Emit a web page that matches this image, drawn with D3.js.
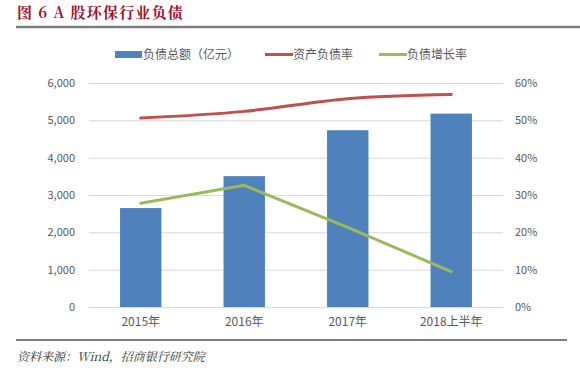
<!DOCTYPE html>
<html><head><meta charset="utf-8">
<script src="https://cdn.jsdelivr.net/npm/d3@7/dist/d3.min.js"></script>
<style>body{margin:0;background:#fff}svg{display:block}</style>
</head><body><svg id="c" width="580" height="368"></svg>
<script>
const categories = ["2015年","2016年","2017年","2018上半年"];
const debtTotal = [2650, 3505, 4735, 5180];
const debtRatio = [0.506, 0.524, 0.558, 0.569];
const debtGrowth = [0.278, 0.326, 0.213, 0.095];
const leftTicks = [0,1000,2000,3000,4000,5000,6000];
const rightTicks = [0,0.1,0.2,0.3,0.4,0.5,0.6];
const legendLabels = ["负债总额（亿元）","资产负债率","负债增长率"];
const titleText = "图 6 A 股环保行业负债";
const sourceText = "资料来源：Wind，招商银行研究院";

const svg = d3.select("#c");
const font = "'Noto Sans CJK SC', 'Microsoft YaHei', sans-serif";
const axisCol = "#595959";

const x = d3.scaleBand().domain(categories).range([89, 503]).paddingInner(0.6).paddingOuter(0.3);
const yL = d3.scaleLinear().domain([0, 6000]).range([307, 83]);
const yR = d3.scaleLinear().domain([0, 0.6]).range([307, 83]);

// Title
svg.append("text").attr("x", 17).attr("y", 18).text(titleText)
  .attr("font-family", "'Noto Serif CJK SC','Noto Sans CJK SC',serif").attr("font-weight", "bold")
  .attr("font-size", 15).attr("letter-spacing", 1.2).attr("fill", "#A3102E");
svg.append("line").attr("x1", 16).attr("x2", 580).attr("y1", 27).attr("y2", 27)
  .attr("stroke", "#7f7f7f").attr("stroke-width", 2.5);

// Gridlines
svg.append("g").selectAll("line").data(leftTicks).join("line")
  .attr("x1", 89).attr("x2", 503).attr("y1", d => yL(d) + 0.5).attr("y2", d => yL(d) + 0.5)
  .attr("stroke", "#d9d9d9").attr("stroke-width", 1);

// Left axis
const gL = svg.append("g").attr("transform", "translate(89,0)")
  .call(d3.axisLeft(yL).tickValues(leftTicks).tickSize(0).tickPadding(14).tickFormat(d3.format(",")));
gL.select(".domain").remove();
gL.selectAll("text").attr("font-family", font).attr("font-size", 11).attr("fill", axisCol);

// Right axis
const gR = svg.append("g").attr("transform", "translate(503,0)")
  .call(d3.axisRight(yR).tickValues(rightTicks).tickSize(0).tickPadding(12).tickFormat(d3.format(".0%")));
gR.select(".domain").remove();
gR.selectAll("text").attr("font-family", font).attr("font-size", 11).attr("fill", axisCol);

// X axis
const gX = svg.append("g").attr("transform", "translate(0,307)")
  .call(d3.axisBottom(x).tickSize(0).tickPadding(10));
gX.select(".domain").remove();
gX.selectAll("text").attr("font-family", font).attr("font-size", 12).attr("fill", axisCol);

// Bars
svg.append("g").selectAll("rect").data(debtTotal).join("rect")
  .attr("x", (d, i) => x(categories[i])).attr("width", x.bandwidth())
  .attr("y", d => yL(d)).attr("height", d => yL(0) - yL(d))
  .attr("fill", "#4F81BD");

const cx = c => x(c) + x.bandwidth() / 2;
// Ratio line (smoothed)
svg.append("path").datum(debtRatio)
  .attr("d", d3.line().x((d, i) => cx(categories[i])).y(d => yR(d)).curve(d3.curveCatmullRom.alpha(0.5)))
  .attr("fill", "none").attr("stroke", "#C0504D").attr("stroke-width", 3).attr("stroke-linecap", "round");
// Growth line
svg.append("path").datum(debtGrowth)
  .attr("d", d3.line().x((d, i) => cx(categories[i])).y(d => yR(d)))
  .attr("fill", "none").attr("stroke", "#9BBB59").attr("stroke-width", 3).attr("stroke-linecap", "round");

// Legend
const lg = svg.append("g").attr("font-family", font).attr("font-size", 12).attr("fill", axisCol);
const legX = [115, 265, 379];
const legCol = ["#4F81BD", "#C0504D", "#9BBB59"];
legendLabels.forEach((t, i) => {
  if (i === 0) lg.append("rect").attr("x", legX[i]).attr("y", 51).attr("width", 27).attr("height", 7).attr("fill", legCol[i]);
  else lg.append("line").attr("x1", legX[i]).attr("x2", legX[i] + 28).attr("y1", 54.5).attr("y2", 54.5)
    .attr("stroke", legCol[i]).attr("stroke-width", 3);
  lg.append("text").attr("x", legX[i] + 28).attr("y", 59).text(t);
});

// Bottom rule and source
svg.append("line").attr("x1", 16).attr("x2", 567).attr("y1", 340).attr("y2", 340)
  .attr("stroke", "#7f7f7f").attr("stroke-width", 2);
svg.append("text").attr("x", 17).attr("y", 361).text(sourceText)
  .attr("font-family", "'Noto Serif CJK SC','Noto Sans CJK SC',serif").attr("font-style", "italic")
  .attr("font-size", 12).attr("fill", "#333");
</script></body></html>
